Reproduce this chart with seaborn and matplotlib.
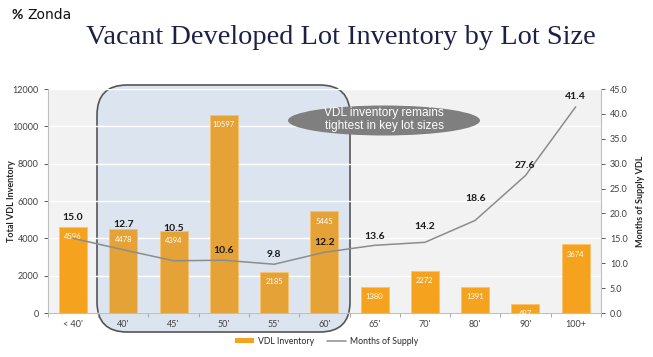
import numpy as np
import pandas as pd
import matplotlib
matplotlib.use("Agg")
import matplotlib.pyplot as plt
from matplotlib.patches import FancyBboxPatch, Ellipse, Patch
from matplotlib.lines import Line2D
import seaborn as sns

# Dados
lot_sizes = ["< 40'", "40'", "45'", "50'", "55'", "60'", "65'", "70'", "80'", "90'", "100+"]
vdl_inventory = [4596, 4478, 4394, 10597, 2185, 5445, 1380, 2272, 1391, 497, 3674]
months_supply = [15.0, 12.7, 10.5, 10.6, 9.8, 12.2, 13.6, 14.2, 18.6, 27.6, 41.4]
key_sizes = ["40'", "45'", "50'", "55'", "60'"]

# deslocamento (px) dos rotulos da linha, como no slide original
label_offsets = [21, 25, 32, 10, 10, 10, 9, 16, 22, 10, 10]

df = pd.DataFrame({"lot": lot_sizes, "inv": vdl_inventory, "mos": months_supply})

sns.set_style("white")
plt.rcParams["font.family"] = ["Lato", "DejaVu Sans"]

fig = plt.figure(figsize=(6.53, 3.57), dpi=100)
ax = fig.add_axes([0.0735, 0.1232, 0.8465, 0.6275])
ax.set_facecolor("#f2f2f2")
ax.set_axisbelow("line")

orange = "#f5a31f"
muted = "#e5a236"
colors = {l: (muted if l in key_sizes else orange) for l in lot_sizes}

# caixa arredondada (atras das barras)
box = FancyBboxPatch((0.97 + 0.3, 0.25 + 0.3), 3.50 - 0.97 - 0.6, 2.72 - 0.25 - 0.6,
                     boxstyle="round,pad=0.3", transform=fig.dpi_scale_trans,
                     facecolor="#dce5ef", edgecolor="#555555", lw=1.2,
                     clip_on=False, zorder=0.6)
ax.add_patch(box)

sns.barplot(data=df, x="lot", y="inv", hue="lot", palette=colors, legend=False,
            saturation=1, width=0.56, ax=ax, edgecolor="#f7c36e", linewidth=0.6, zorder=2)

ax.set_ylim(0, 12000)
ax.set_yticks(range(0, 12001, 2000))
ax.set_xlim(-0.5, len(lot_sizes) - 0.5)
ax.grid(axis="y", color="white", lw=1.0)
ax.set_xlabel("")
ax.set_ylabel("Total VDL Inventory", fontsize=6.5, fontweight="bold")
ax.yaxis.set_label_coords(-0.057, 0.5)
ax.tick_params(axis="y", labelsize=6.5, colors="#404040", length=3, width=0.6, left=True)
ax.tick_params(axis="x", labelsize=6.5, colors="#404040", length=0, pad=5)
ax.set_xticks(np.arange(-0.5, len(lot_sizes)), minor=True)
ax.tick_params(axis="x", which="minor", length=3, width=0.6, color="#999999", bottom=True)
for s in ["top", "right"]:
    ax.spines[s].set_visible(False)
for s in ["left", "bottom"]:
    ax.spines[s].set_color("#bfbfbf")
    ax.spines[s].set_linewidth(0.8)

for i, v in enumerate(vdl_inventory):
    ax.annotate(str(v), (i, v), xytext=(0, -7), textcoords="offset points",
                ha="center", va="center", fontsize=5.5, color="white", zorder=5)

# eixo secundario
ax2 = ax.twinx()
sns.lineplot(x=np.arange(len(lot_sizes)), y=months_supply, ax=ax2, color="#8c8c8c",
             lw=1.1, zorder=3)
ax2.set_ylim(0, 45)
ax2.set_yticks(np.arange(0, 45.1, 5))
ax2.set_yticklabels([f"{t:.1f}" for t in np.arange(0, 45.1, 5)])
ax2.set_ylabel("Months of Supply VDL", fontsize=6.5, fontweight="bold", labelpad=6)
ax2.tick_params(axis="y", labelsize=6.5, colors="#404040", length=3, width=0.6, right=True)
for s in ["top", "left", "bottom"]:
    ax2.spines[s].set_visible(False)
ax2.spines["right"].set_color("#bfbfbf")
ax2.spines["right"].set_linewidth(0.8)
ax2.grid(False)

for i, m in enumerate(months_supply):
    ax2.annotate(f"{m:.1f}", (i, m), xytext=(0, label_offsets[i] * 0.72),
                 textcoords="offset points", ha="center", va="center",
                 fontsize=7.5, fontweight="bold", color="#1a1a1a")

# elipse de comentario
ell = Ellipse((3.84, 3.57 - 1.205), 1.92, 0.30, transform=fig.dpi_scale_trans,
              facecolor="#7f7f7f", edgecolor="none", zorder=10, clip_on=False)
ax2.add_patch(ell)
fig.text(384 / 653, 1 - 119.5 / 357, "VDL inventory remains\ntightest in key lot sizes",
         ha="center", va="center", fontsize=8.6, color="white", linespacing=1.05,
         family=["Liberation Sans", "DejaVu Sans"], zorder=11)

# legenda
handles = [Patch(facecolor=orange, edgecolor="none", label="VDL Inventory"),
           Line2D([0], [0], color="#8c8c8c", lw=1.1, label="Months of Supply")]
fig.legend(handles=handles, loc="center", bbox_to_anchor=(0.50, 1 - 341 / 357), ncol=2,
           frameon=False, fontsize=6.3, handlelength=2.2, handleheight=0.6,
           columnspacing=1.5, handletextpad=0.4)

# titulo e logo
fig.text(0.522, 1 - 37 / 357, "Vacant Developed Lot Inventory by Lot Size",
         ha="center", va="center", fontsize=20.4, color="#1c2145",
         family=["Liberation Serif", "DejaVu Serif"])
fig.text(0.018, 1 - 15 / 357, "%", ha="left", va="center", fontsize=10,
         fontweight="bold", color="#111111")
fig.text(0.042, 1 - 15 / 357, "Zonda", ha="left", va="center", fontsize=10,
         color="#111111", family=["DejaVu Sans"])

fig.savefig("out.png", dpi=100)
